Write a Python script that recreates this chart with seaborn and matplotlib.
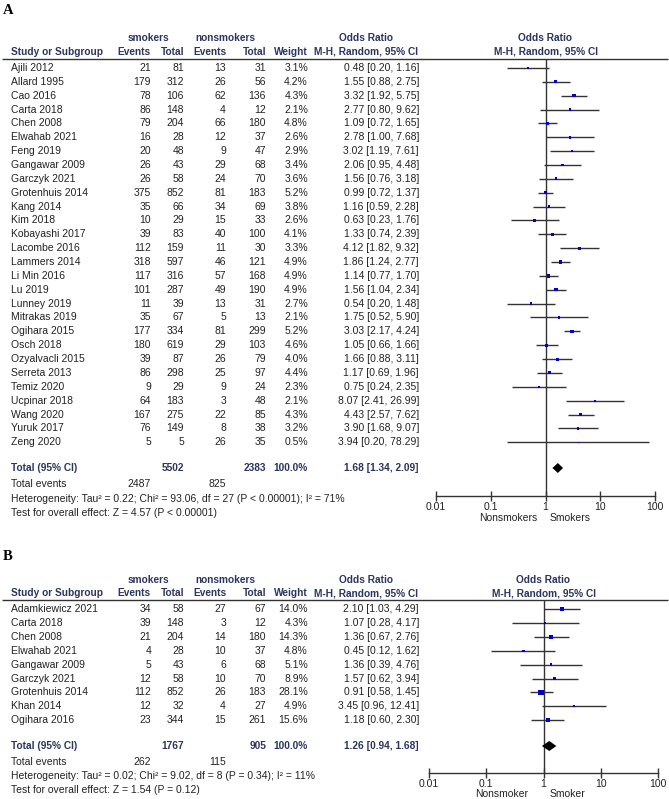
import numpy as np
import matplotlib
matplotlib.use("Agg")
import matplotlib.pyplot as plt
import seaborn as sns

# ---------------- Panel A data ----------------
a_study = ["Ajili 2012", "Allard 1995", "Cao 2016", "Carta 2018", "Chen 2008", "Elwahab 2021",
           "Feng 2019", "Gangawar 2009", "Garczyk 2021", "Grotenhuis 2014", "Kang 2014", "Kim 2018",
           "Kobayashi 2017", "Lacombe 2016", "Lammers 2014", "Li Min 2016", "Lu 2019", "Lunney 2019",
           "Mitrakas 2019", "Ogihara 2015", "Osch 2018", "Ozyalvacli 2015", "Serreta 2013",
           "Temiz 2020", "Ucpinar 2018", "Wang 2020", "Yuruk 2017", "Zeng 2020"]
a_smk_ev = [21, 179, 78, 86, 79, 16, 20, 26, 26, 375, 35, 10, 39, 112, 318, 117, 101, 11, 35, 177, 180, 39, 86, 9, 64, 167, 76, 5]
a_smk_tot = [81, 312, 106, 148, 204, 28, 48, 43, 58, 852, 66, 29, 83, 159, 597, 316, 287, 39, 67, 334, 619, 87, 298, 29, 183, 275, 149, 5]
a_non_ev = [13, 26, 62, 4, 66, 12, 9, 29, 24, 81, 34, 15, 40, 11, 46, 57, 49, 13, 5, 81, 29, 26, 25, 9, 3, 22, 8, 26]
a_non_tot = [31, 56, 136, 12, 180, 37, 47, 68, 70, 183, 69, 33, 100, 30, 121, 168, 190, 31, 13, 299, 103, 79, 97, 24, 48, 85, 38, 35]
a_weight = [3.1, 4.2, 4.3, 2.1, 4.8, 2.6, 2.9, 3.4, 3.6, 5.2, 3.8, 2.6, 4.1, 3.3, 4.9, 4.9, 4.9, 2.7, 2.1, 5.2, 4.6, 4.0, 4.4, 2.3, 2.1, 4.3, 3.2, 0.5]
a_or = [0.48, 1.55, 3.32, 2.77, 1.09, 2.78, 3.02, 2.06, 1.56, 0.99, 1.16, 0.63, 1.33, 4.12, 1.86, 1.14, 1.56, 0.54, 1.75, 3.03, 1.05, 1.66, 1.17, 0.75, 8.07, 4.43, 3.90, 3.94]
a_lo = [0.20, 0.88, 1.92, 0.80, 0.72, 1.00, 1.19, 0.95, 0.76, 0.72, 0.59, 0.23, 0.74, 1.82, 1.24, 0.77, 1.04, 0.20, 0.52, 2.17, 0.66, 0.88, 0.69, 0.24, 2.41, 2.57, 1.68, 0.20]
a_hi = [1.16, 2.75, 5.75, 9.62, 1.65, 7.68, 7.61, 4.48, 3.18, 1.37, 2.28, 1.76, 2.39, 9.32, 2.77, 1.70, 2.34, 1.48, 5.90, 4.24, 1.66, 3.11, 1.96, 2.35, 26.99, 7.62, 9.07, 78.29]
a_total = {"smk_tot": 5502, "non_tot": 2383, "weight": 100.0, "smk_ev": 2487, "non_ev": 825,
           "or": 1.68, "lo": 1.34, "hi": 2.09}
a_het = "Heterogeneity: Tau² = 0.22; Chi² = 93.06, df = 27 (P < 0.00001); I² = 71%"
a_test = "Test for overall effect: Z = 4.57 (P < 0.00001)"
a_favours = ["Nonsmokers", "Smokers"]

# ---------------- Panel B data ----------------
b_study = ["Adamkiewicz 2021", "Carta 2018", "Chen 2008", "Elwahab 2021", "Gangawar 2009",
           "Garczyk 2021", "Grotenhuis 2014", "Khan 2014", "Ogihara 2016"]
b_smk_ev = [34, 39, 21, 4, 5, 12, 112, 12, 23]
b_smk_tot = [58, 148, 204, 28, 43, 58, 852, 32, 344]
b_non_ev = [27, 3, 14, 10, 6, 10, 26, 4, 15]
b_non_tot = [67, 12, 180, 37, 68, 70, 183, 27, 261]
b_weight = [14.0, 4.3, 14.3, 4.8, 5.1, 8.9, 28.1, 4.9, 15.6]
b_or = [2.10, 1.07, 1.36, 0.45, 1.36, 1.57, 0.91, 3.45, 1.18]
b_lo = [1.03, 0.28, 0.67, 0.12, 0.39, 0.62, 0.58, 0.96, 0.60]
b_hi = [4.29, 4.17, 2.76, 1.62, 4.76, 3.94, 1.45, 12.41, 2.30]
b_total = {"smk_tot": 1767, "non_tot": 905, "weight": 100.0, "smk_ev": 262, "non_ev": 115,
           "or": 1.26, "lo": 0.94, "hi": 1.68}
b_het = "Heterogeneity: Tau² = 0.02; Chi² = 9.02, df = 8 (P = 0.34); I² = 11%"
b_test = "Test for overall effect: Z = 1.54 (P = 0.12)"
b_favours = ["Nonsmoker", "Smoker"]

ticks = [0.01, 0.1, 1, 10, 100]
tick_labels = ["0.01", "0.1", "1", "10", "100"]

# ---------------- style ----------------
sns.set_theme(style="white")
plt.rcParams["font.family"] = ["Liberation Sans", "DejaVu Sans"]

W, H = 669, 799
fig = plt.figure(figsize=(W / 100, H / 100), dpi=100)
tax = fig.add_axes([0, 0, 1, 1])
tax.set_xlim(0, W)
tax.set_ylim(H, 0)
tax.axis("off")

TXT = "#222222"
HDR = "#2a3560"
LINE = "#333333"
BLUE = "#0000cc"
FS = 7.5
FSB = 7.3

COL = dict(name=11, ev1=151, tot1=184, ev2=226, tot2=266, w=308, orr=419, orc=366)


def draw_panel(d, L):
    tax.text(3, L["label_y"], L["label"], fontsize=10.5, fontweight="bold",
             family=["Liberation Serif", "DejaVu Serif"], va="center", ha="left", color="black")
    fc = (L["x0"] + L["x1"]) / 2
    y1, y2 = L["h1_y"], L["h2_y"]
    hk = dict(fontsize=FSB, fontweight="bold", color=HDR, va="center")
    tax.text(148, y1, "smokers", ha="center", **hk)
    tax.text(225, y1, "nonsmokers", ha="center", **hk)
    tax.text(COL["orc"], y1, "Odds Ratio", ha="center", **hk)
    tax.text(fc, y1, "Odds Ratio", ha="center", **hk)
    tax.text(COL["name"], y2, "Study or Subgroup", ha="left", **hk)
    tax.text(COL["ev1"], y2, "Events", ha="right", **hk)
    tax.text(COL["tot1"], y2, "Total", ha="right", **hk)
    tax.text(COL["ev2"], y2, "Events", ha="right", **hk)
    tax.text(COL["tot2"], y2, "Total", ha="right", **hk)
    tax.text(COL["w"], y2, "Weight", ha="right", **hk)
    tax.text(COL["orc"], y2, "M-H, Random, 95% CI", ha="center", **hk)
    tax.text(fc, y2, "M-H, Random, 95% CI", ha="center", **hk)
    tax.plot([2, 668], [L["rule_y"], L["rule_y"]], color=LINE, lw=1.0, solid_capstyle="butt")

    n = len(d["study"])
    ys = [L["row0"] + L["step"] * i for i in range(n)]
    rk = dict(fontsize=FS, color=TXT, va="center")
    for i in range(n):
        y = ys[i]
        tax.text(COL["name"], y, d["study"][i], ha="left", **rk)
        tax.text(COL["ev1"], y, str(d["smk_ev"][i]), ha="right", **rk)
        tax.text(COL["tot1"], y, str(d["smk_tot"][i]), ha="right", **rk)
        tax.text(COL["ev2"], y, str(d["non_ev"][i]), ha="right", **rk)
        tax.text(COL["tot2"], y, str(d["non_tot"][i]), ha="right", **rk)
        tax.text(COL["w"], y, f"{d['weight'][i]:.1f}%", ha="right", **rk)
        tax.text(COL["orr"], y, f"{d['or'][i]:.2f} [{d['lo'][i]:.2f}, {d['hi'][i]:.2f}]", ha="right", **rk)

    t = d["total"]
    ty = L["total_y"]
    bk = dict(fontsize=FSB, fontweight="bold", color=HDR, va="center")
    tax.text(COL["name"], ty, "Total (95% CI)", ha="left", **bk)
    tax.text(COL["tot1"], ty, str(t["smk_tot"]), ha="right", **bk)
    tax.text(COL["tot2"], ty, str(t["non_tot"]), ha="right", **bk)
    tax.text(COL["w"], ty, f"{t['weight']:.1f}%", ha="right", **bk)
    tax.text(COL["orr"], ty, f"{t['or']:.2f} [{t['lo']:.2f}, {t['hi']:.2f}]", ha="right", **bk)
    tax.text(COL["name"], L["tev_y"], "Total events", ha="left", **rk)
    tax.text(COL["ev1"], L["tev_y"], str(t["smk_ev"]), ha="right", **rk)
    tax.text(COL["ev2"], L["tev_y"], str(t["non_ev"]), ha="right", **rk)
    tax.text(COL["name"], L["het_y"], d["het"], ha="left", **rk)
    tax.text(COL["name"], L["test_y"], d["test"], ha="left", **rk)

    # forest axes
    ax = fig.add_axes([L["x0"] / W, 1 - L["axis_y"] / H, (L["x1"] - L["x0"]) / W,
                       (L["axis_y"] - L["rule_y"]) / H])
    ax.patch.set_alpha(0)
    ax.set_xscale("log")
    for s in ["top", "right", "left"]:
        ax.spines[s].set_visible(False)
    ax.spines["bottom"].set_color(LINE)
    ax.spines["bottom"].set_linewidth(1.0)
    ax.axvline(1, color=LINE, lw=1.0)
    ax.hlines(ys, d["lo"], d["hi"], color=LINE, lw=1.0)
    sizes = [(L["mscale"] * np.sqrt(w) * 0.72) ** 2 for w in d["weight"]]
    sns.scatterplot(x=d["or"], y=ys, s=sizes, marker="s", color=BLUE, linewidth=0,
                    legend=False, ax=ax, zorder=3)
    hh = 5
    ax.fill([t["lo"], t["or"], t["hi"], t["or"]], [ty, ty - hh, ty, ty + hh],
            color="black", lw=0, zorder=3)
    ax.set_xlabel("")
    ax.set_ylabel("")
    ax.set_xlim(0.01, 100)
    ax.set_ylim(L["axis_y"], L["rule_y"])
    ax.set_yticks([])
    ax.set_xticks(ticks)
    ax.set_xticklabels(tick_labels)
    ax.minorticks_off()
    ax.tick_params(axis="x", direction="inout", length=7, width=1, color=LINE,
                   labelsize=FS, labelcolor=TXT, pad=1, bottom=True)
    ax.grid(False)

    fk = dict(fontsize=FS, color=TXT, va="center", ha="center")
    tax.text(L["fav_l"], L["fav_y"], d["favours"][0], **fk)
    tax.text(L["fav_r"], L["fav_y"], d["favours"][1], **fk)


A = dict(study=a_study, smk_ev=a_smk_ev, smk_tot=a_smk_tot, non_ev=a_non_ev, non_tot=a_non_tot,
         weight=a_weight, lo=a_lo, hi=a_hi, total=a_total, het=a_het, test=a_test,
         favours=a_favours)
A["or"] = a_or
B = dict(study=b_study, smk_ev=b_smk_ev, smk_tot=b_smk_tot, non_ev=b_non_ev, non_tot=b_non_tot,
         weight=b_weight, lo=b_lo, hi=b_hi, total=b_total, het=b_het, test=b_test,
         favours=b_favours)
B["or"] = b_or

LA = dict(label="A", label_y=10, h1_y=38, h2_y=52, rule_y=59, row0=68, step=13.86,
          total_y=468, tev_y=484, het_y=499, test_y=513, axis_y=496, x0=436, x1=655,
          fav_l=508, fav_r=570, fav_y=518, mscale=1.5)
LB = dict(label="B", label_y=557, h1_y=580, h2_y=593, rule_y=600, row0=609, step=13.9,
          total_y=746, tev_y=762, het_y=776, test_y=790, axis_y=773, x0=429, x1=658,
          fav_l=502, fav_r=567, fav_y=794, mscale=1.05)

draw_panel(A, LA)
draw_panel(B, LB)

fig.savefig("out.png", dpi=100)
